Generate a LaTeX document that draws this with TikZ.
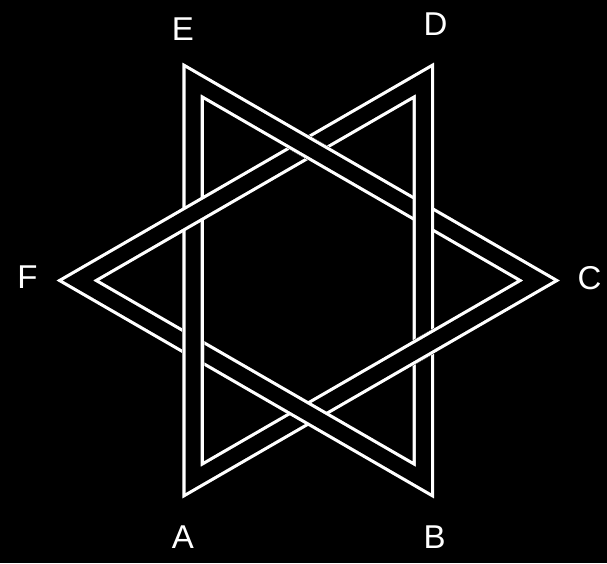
\documentclass[tikz,border=0pt]{standalone}
\usepackage{fontspec}
\setmainfont{Liberation Sans}
\usetikzlibrary{calc}
\definecolor{Fondo}{RGB}{0,0,0}
\definecolor{Trazo}{RGB}{255,255,255}

\begin{document}
\begin{tikzpicture}[x=1pt, y=-1pt,
	banda/.style={draw=Trazo, line width=3.2pt, double=Fondo, double distance=15pt, line join=miter},
	letra/.style={text=Trazo, font=\fontsize{33}{40}\selectfont, inner sep=0pt}]
	\fill[Fondo] (0,0) rectangle (607,563);
	% triangulo 1: E, A, C
	\coordinate (E) at (193.05,81.05);
	\coordinate (A) at (193.05,479.95);
	\coordinate (C) at (538.5,280.5);
	% triangulo 2: D, B, F
	\coordinate (D) at (423.35,81.05);
	\coordinate (B) at (423.35,479.95);
	\coordinate (F) at (77.9,280.5);
	% cruces donde el triangulo 1 pasa por encima
	\coordinate (x1) at ($(E)!2/3!(A)$);
	\coordinate (x2) at ($(E)!1/3!(C)$);
	\coordinate (x3) at ($(A)!2/3!(C)$);
	\foreach \i/\p/\q in {1/E/A, 2/E/C, 3/A/C} {
		\coordinate (x\i a) at ($(x\i)!30pt!(\p)$);
		\coordinate (x\i b) at ($(x\i)!30pt!(\q)$);
		\coordinate (z\i a) at ($(x\i a)!11.2pt!90:(\q)$);
		\coordinate (z\i b) at ($(x\i b)!11.2pt!90:(\q)$);
		\coordinate (z\i c) at ($(x\i b)!11.2pt!-90:(\q)$);
		\coordinate (z\i d) at ($(x\i a)!11.2pt!-90:(\q)$);
	}
	\draw[banda] (E) -- (A) -- (C) -- cycle;
	\begin{scope}[even odd rule]
		\clip (0,0) rectangle (607,563)
			(z1a) -- (z1b) -- (z1c) -- (z1d) -- cycle
			(z2a) -- (z2b) -- (z2c) -- (z2d) -- cycle
			(z3a) -- (z3b) -- (z3c) -- (z3d) -- cycle;
		\draw[banda] (D) -- (B) -- (F) -- cycle;
	\end{scope}
	\node[letra] (etqE) at (183,29.5) {E};
	\node[letra] (etqD) at (435.5,24.5) {D};
	\node[letra] (etqF) at (27.5,277) {F};
	\node[letra] (etqC) at (589.5,278) {C};
	\node[letra] (etqA) at (183,537.5) {A};
	\node[letra] (etqB) at (434.5,537.5) {B};
\end{tikzpicture}
\end{document}
